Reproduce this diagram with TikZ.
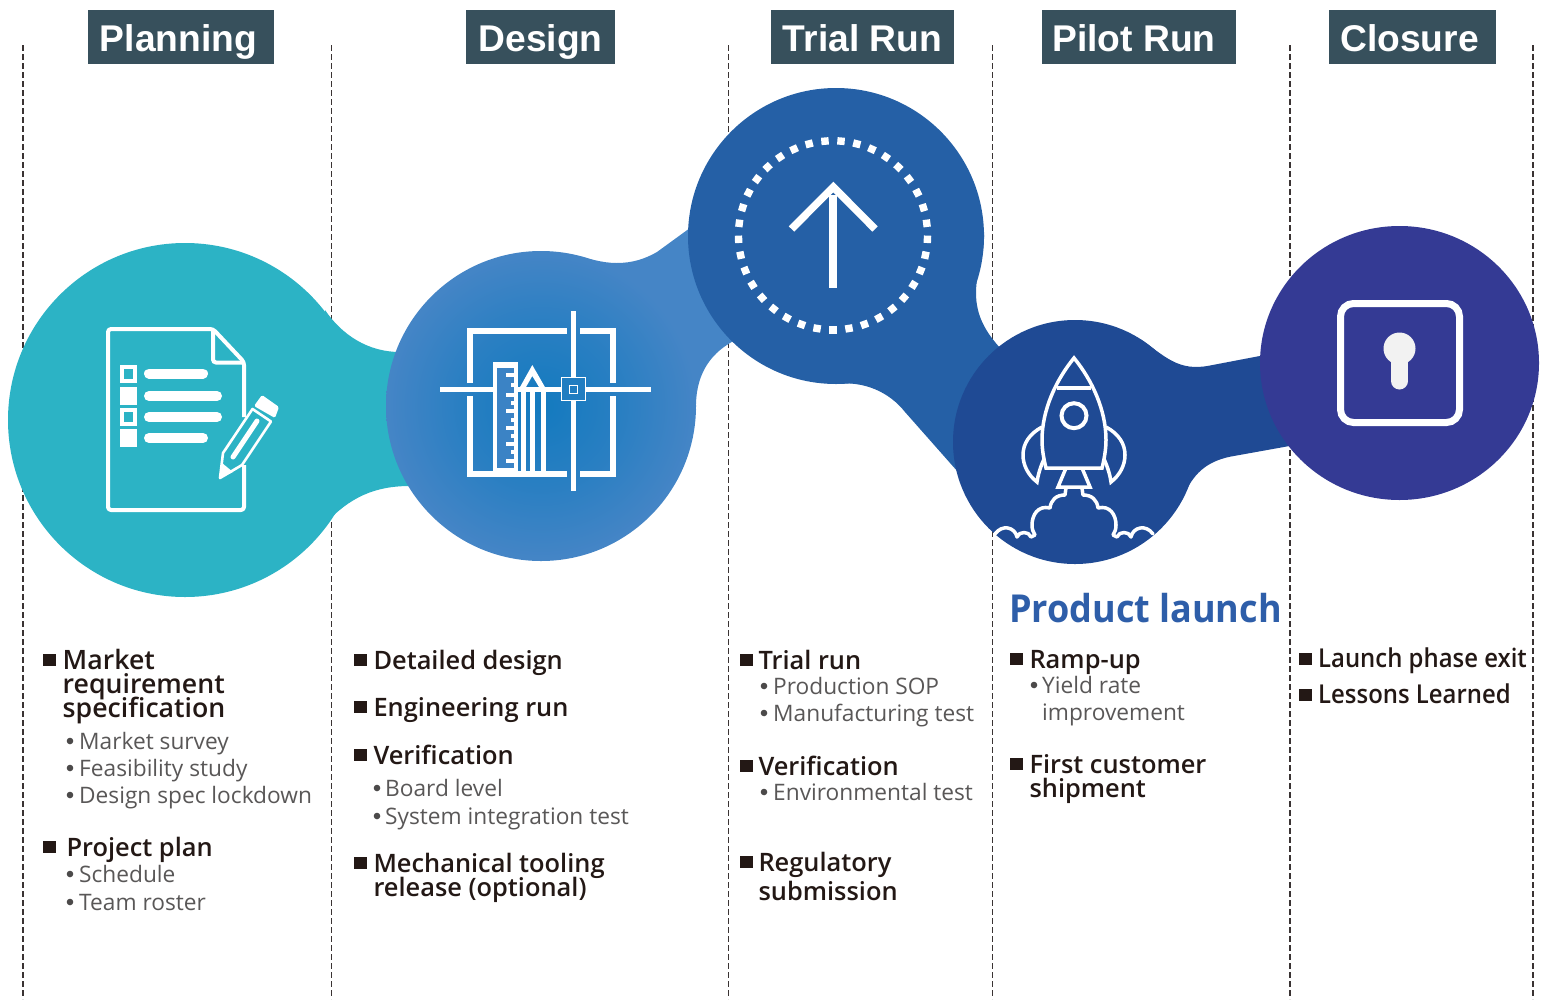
\documentclass[tikz,border=0pt]{standalone}
\usepackage{fontspec}
\setmainfont{Open Sans}
\newfontfamily\hdfont{Liberation Sans}[BoldFont={Liberation Sans Bold}]
\newfontfamily\semifont{Open Sans Semibold}
\newfontfamily\semicond[FakeStretch=0.92]{Open Sans Semibold}
\newfontfamily\boldfont[FakeStretch=0.935]{Open Sans Bold}
\definecolor{hdbox}{HTML}{37505C}
\definecolor{headc}{HTML}{231815}
\definecolor{subc}{HTML}{595757}
\definecolor{dashc}{HTML}{3A3333}
\definecolor{planc}{HTML}{2CB3C5}
\definecolor{neckc}{HTML}{4585C6}
\definecolor{desin}{HTML}{137ABF}
\definecolor{trialc}{HTML}{2560A6}
\definecolor{pilotc}{HTML}{1F4A94}
\definecolor{closec}{HTML}{343A94}
\definecolor{launchc}{HTML}{2E5EA9}
\pgfdeclareradialshading{desshade}{\pgfpointorigin}{color(0bp)=(desin); color(13bp)=(desin!55!neckc); color(25bp)=(neckc); color(50bp)=(neckc)}
\tikzset{
  hdbox/.style={fill=hdbox,text=white,inner sep=0pt,minimum height=54pt,text height=30pt,text depth=2pt,font=\hdfont\bfseries\fontsize{37.2}{37.2}\selectfont},
  headtext/.style={anchor=base west,inner sep=0pt,text=headc,font=\semifont\fontsize{25.4}{25.4}\selectfont},
  headwide/.style={headtext,font=\semifont\fontsize{26.7}{26.7}\selectfont},
  headnarrow/.style={headtext,font=\semicond\fontsize{26}{26}\selectfont},
  subtext/.style={anchor=base west,inner sep=0pt,text=subc,font=\fontsize{22.7}{22.7}\selectfont},
  sqmark/.style={fill=headc,inner sep=0pt,minimum size=12.5pt},
  dotmark/.style={circle,fill=subc!85!black,inner sep=0pt,minimum size=6.6pt},
  divider/.style={draw=dashc,line width=1.5pt,dash pattern=on 5.5pt off 3.5pt},
  ic/.style={draw=white,line width=4pt}
}
\begin{document}
\begin{tikzpicture}[x=1pt,y=-1pt]
\useasboundingbox (0,0) rectangle (1552,999);
% dashed dividers
\foreach \x [count=\i] in {22.8,331.5,728.7,992.7,1290,1533}{
  \coordinate (dt\i) at (\x,45); \coordinate (db\i) at (\x,999);
  \draw[divider] (dt\i) -- (db\i);
}
% headers
\node[hdbox,minimum width=186pt] (hplan) at (181,37) {\kern-5pt Planning};
\node[hdbox,minimum width=149pt] (hdes) at (540.5,37) {Design};
\node[hdbox,minimum width=183pt] (htrial) at (862.5,37) {Trial Run};
\node[hdbox,minimum width=194pt] (hpilot) at (1139,37) {\kern-10pt Pilot Run};
\node[hdbox,minimum width=167pt] (hclose) at (1412.5,37) {\kern-6pt Closure};
% blobs
\fill[planc] (325,310) .. controls (342,335) and (368,352) .. (400,352) -- (420,352) -- (420,486) -- (410,486) .. controls (375,486) and (350,497) .. (325,524) -- cycle;
\fill[planc] (185,420) circle (177);
\fill[neckc] (570,255) .. controls (590,258) and (600,263) .. (617,263) .. controls (632,263) and (645,259) .. (657,252) -- (690,228) -- (735,340) -- (730,343) .. controls (710,355) and (695,375) .. (696,410) -- (560,420) -- cycle;
\shade[shading=desshade] (541,406) circle (155);
\fill[trialc] (984,232) .. controls (985,255) and (976,270) .. (976,293) .. controls (976,315) and (985,332) .. (1002,350) -- (965,482) -- (958,472) -- (905,412) .. controls (890,393) and (865,380) .. (833,384) -- cycle;
\fill[trialc] (836,236) circle (148);
\fill[pilotc] (1140,339) .. controls (1165,356) and (1178,372) .. (1210,365.5) -- (1265,355) -- (1295,445) -- (1230,456.7) .. controls (1205,462) and (1193,475) .. (1184,495) -- (1100,440) -- cycle;
\fill[pilotc] (1075,442) circle (122);
\fill[closec] (1399.5,363) ellipse (139.5 and 137);
% document icon
\begin{scope}
\draw[ic,rounded corners=3pt,line join=round] (244,417) -- (244,362) -- (213,329) -- (108,329) -- (108,510) -- (244,510) -- (244,465);
\draw[ic,rounded corners=3pt] (213,329) -- (213,362.5) -- (244,362.5);
\foreach \y in {365,408}{\draw[line width=4.5pt,white] (122.2,\y+2.2) rectangle (134.8,\y+15.8);}
\foreach \y in {387,429}{\fill[white] (120,\y) rectangle (137,\y+18);}
\draw[white,line width=10pt,line cap=round] (149,373.5) -- (203,373.5);
\draw[white,line width=10pt,line cap=round] (149,396) -- (217,396);
\draw[white,line width=10pt,line cap=round] (149,417) -- (217,417);
\draw[white,line width=10pt,line cap=round] (149,438) -- (203,438);
% pencil
\fill[white,rounded corners=1.5pt] (262,395) -- (279,407) -- (275,418) -- (254,406) -- cycle;
\draw[white,line width=2.6pt,line join=round] (252.5,409) -- (223,453) -- (220,478) -- (242,465) -- (271,421.5) -- cycle;
\draw[white,line width=5pt,line cap=round] (233,457) -- (257,421);
\fill[white] (220,478) -- (222,463) -- (233,472) -- cycle;
\end{scope}
% design icon
\begin{scope}
\draw[white,line width=5.4pt] (470,383) -- (470,331) -- (567,331);
\draw[white,line width=5.4pt] (580,331) -- (613,331) -- (613,383);
\draw[white,line width=5.4pt] (470,396) -- (470,474) -- (567,474);
\draw[white,line width=5.4pt] (580,474) -- (613,474) -- (613,396);
\draw[white,line width=5pt] (440,389.3) -- (651,389.3);
\draw[white,line width=5pt] (573.3,311) -- (573.3,491);
\fill[white] (493.3,362) rectangle (517.7,476.7);
\fill[neckc!80!desin] (497,368) rectangle (513.5,468);
\foreach \y in {374.7,394.7,411.3,428,444,460.7}{\fill[white] (505.7,\y-2) rectangle (513.5,\y+2);}
\foreach \y in {384.7,403,419.6,436,452.3}{\fill[white] (510.7,\y-2) rectangle (513.5,\y+2);}
\fill[white,even odd rule] (532.3,365) -- (545.5,388) -- (519.5,388) -- cycle (532.3,376) -- (526,387) -- (539,387) -- cycle;
\foreach \x in {520.5,530,540.7}{\fill[white] (\x,388) rectangle (\x+5,476.7);}
\fill[desin!75!neckc,draw=white,line width=0.9pt] (561.7,377.7) rectangle (585,400.7);
\draw[white,line width=1.6pt] (569.5,385.3) rectangle (577.3,393.3);
\end{scope}
% trial icon
\foreach \k in {0,...,36}{
  \pgfmathsetmacro{\a}{-90+9.73*\k}
  \fill[white,shift={({833+94.5*cos(\a)},{235.3-94.5*sin(\a)})},rotate=\a] (-3.7,-3.7) rectangle (3.7,3.7);
}
\draw[white,line width=8pt] (833.3,195) -- (833.3,287.7);
\draw[white,line width=7.5pt,miter limit=10] (791.5,229) -- (833.3,187) -- (875,229);
% rocket
\begin{scope}[shift={(1074,0)}]
\draw[white,line width=3.5pt,line join=miter,miter limit=6] (0,358) .. controls (-18,380) and (-32,410) .. (-32,440) .. controls (-32,450) and (-30,460) .. (-28,468) -- (28,468) .. controls (30,460) and (32,450) .. (32,440) .. controls (32,410) and (18,380) .. (0,358) -- cycle;
\draw[white,line width=4.5pt] (-17,388) -- (17,388);
\draw[white,line width=4pt] (0,415.7) circle (12.5);
\draw[white,line width=3.5pt] (-8,468) -- (-16,487) -- (16,487) -- (8,468);
\foreach \s in {-1,1}{
\begin{scope}[xscale=\s]
\draw[white,line width=3.5pt,line join=miter] (-32,427) .. controls (-45,434) and (-51,444) .. (-51,455) .. controls (-51,465) and (-46,475) .. (-37,482) .. controls (-36,475) and (-34,468) .. (-30,459);
\draw[white,line width=3.5pt,line cap=round,line join=round] (-8,488) -- (-9,495) .. controls (-18,495) and (-23,500) .. (-24,508) .. controls (-36,505) and (-42,515) .. (-42,525) .. controls (-42,529) and (-41,532) .. (-39,535) -- (-43,537) .. controls (-45,531) and (-55,531) .. (-57,537) .. controls (-59,527) and (-72,524) .. (-79,534);
\end{scope}
}
\end{scope}
% lock icon
\draw[white,line width=7pt,rounded corners=13pt] (1340.5,303.5) rectangle (1459.5,422.5);
\fill[black!5] (1399.5,348.5) circle (16);
\fill[black!5] (1391,355) rectangle (1408,381);
\fill[black!5] (1399.5,381) circle (8.5);
% headings
\node[headwide] (h1) at (62.5,669) {Market};
\node[headwide] (h2) at (62.5,693) {requirement};
\node[headwide] (h3) at (62.5,717) {specification};
\foreach \x/\y/\t [count=\i from 4] in {66.3/856/Project plan,
 373.3/669/Detailed design,373.3/716/Engineering run,373.3/764/Verification,373.3/872/Mechanical tooling,373.3/896/{release (optional)},
 758.3/669/Trial run,758.3/775/Verification,758.3/871/Regulatory,758.3/900/submission,
 1029.3/668/Ramp-up,1029.3/773/First customer,1029.3/797/shipment}{
  \node[headtext] (h\i) at (\x,\y) {\t};
}
\node[headnarrow] (h17) at (1318,667) {Launch phase exit};
\node[headnarrow] (h18) at (1318,703) {Lessons Learned};
% sub-items
\foreach \x/\y/\t [count=\i] in {79/749/Market survey,79/776/Feasibility study,79/803/Design spec lockdown,79/882/Schedule,79/910/Team roster,
 385/796/Board level,385/824/System integration test,
 773/694/Production SOP,773/721/Manufacturing test,773/800/Environmental test,
 1042/693/Yield rate,1042/720/improvement}{
  \node[subtext] (s\i) at (\x,\y) {\t};
}
% bullets
\foreach \x/\y [count=\i] in {70/741,70/768,70/795,70/874,70/902,377/788,377/816,764/686,764/713,764/792,1034/685}{
  \node[dotmark] (d\i) at (\x,\y) {};
}
% square marks
\foreach \x/\y [count=\i] in {49.5/660,49.5/847,360.5/660,360.5/707,360.5/755,360.5/863,746.5/660,746.5/766,746.5/862,1016.5/659,1016.5/764,1305.5/659,1305.5/695}{
  \node[sqmark] (m\i) at (\x,\y) {};
}
\node[anchor=base west,inner sep=0pt,text=launchc,font=\boldfont\fontsize{38.5}{38.5}\selectfont] (launch) at (1009,622) {Product launch};
\end{tikzpicture}
\end{document}
